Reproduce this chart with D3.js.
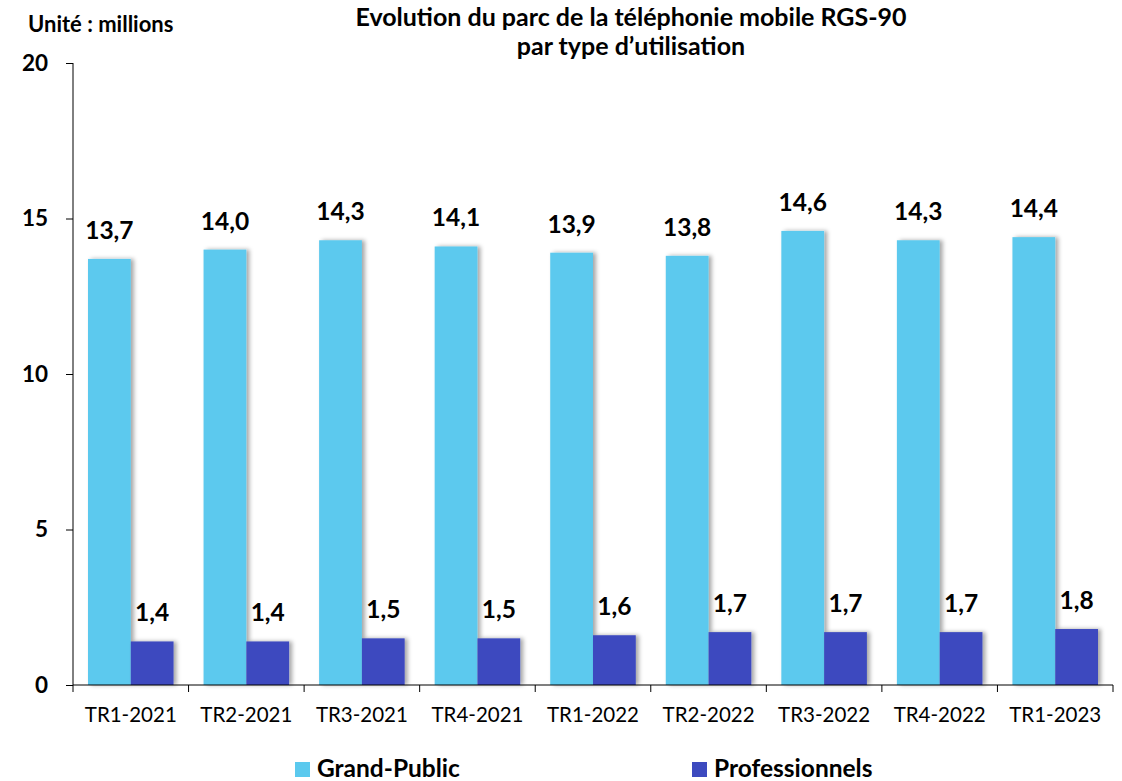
<!DOCTYPE html>
<html><head><meta charset="utf-8">
<script src="https://cdn.jsdelivr.net/npm/d3@7"></script>
<style>body{margin:0;background:#fff}svg{display:block}text{font-family:Lato,"Open Sans",sans-serif}</style>
</head><body><svg id="c" width="1122" height="781"></svg>
<script>
const categories = ["TR1-2021","TR2-2021","TR3-2021","TR4-2021","TR1-2022","TR2-2022","TR3-2022","TR4-2022","TR1-2023"];
const grandPublic = [13.7,14.0,14.3,14.1,13.9,13.8,14.6,14.3,14.4];
const professionnels = [1.4,1.4,1.5,1.5,1.6,1.7,1.7,1.7,1.8];
const yTicks = [0,5,10,15,20];
const seriesNames = ["Grand-Public","Professionnels"];
const colors = ["#5BC9EE","#3D4ABF"];

const svg = d3.select("#c");
const defs = svg.append("defs");
const f = defs.append("filter").attr("id","sh").attr("x","-20%").attr("y","-20%").attr("width","150%").attr("height","140%");
f.append("feDropShadow").attr("dx",3).attr("dy",0).attr("stdDeviation",2).attr("flood-color","#000").attr("flood-opacity",0.35);

const x = d3.scaleBand().domain(categories).range([73,1113]).padding(0);
const bw = x.bandwidth();
const xs = d3.scaleBand().domain(seriesNames).range([15, bw-15]).padding(0);
const y = d3.scaleLinear().domain([0,20]).range([685,63]);

const data = [grandPublic, professionnels];
const fmt = v => d3.format(".1f")(v).replace(".", ",");

data.forEach((vals, si) => {
  const g = svg.append("g");
  g.selectAll("rect").data(vals).join("rect")
    .attr("x",(d,i)=>x(categories[i])+xs(seriesNames[si]))
    .attr("y",d=>y(d))
    .attr("width",xs.bandwidth())
    .attr("height",d=>y(0)-y(d))
    .attr("fill",colors[si])
    .attr("filter","url(#sh)");
  g.selectAll("text").data(vals).join("text")
    .attr("x",(d,i)=>x(categories[i])+xs(seriesNames[si])+xs.bandwidth()/2)
    .attr("y",d=>y(d)-20)
    .attr("text-anchor","middle")
    .attr("font-size",24.5).attr("font-weight","bold").attr("fill","#000")
    .text(d=>fmt(d));
});

// Y axis
const ya = svg.append("g").attr("transform","translate(73,0)")
  .call(d3.axisLeft(y).tickValues(yTicks).tickSize(7).tickPadding(18).tickFormat(d=>d));
ya.select(".domain").attr("stroke","#000").attr("d","M0,63V685");
ya.selectAll(".tick line").attr("stroke","#000");
ya.selectAll(".tick text").attr("font-size",22.5).attr("font-weight","bold").attr("fill","#000").attr("font-family","Lato");

// X axis
const xa = svg.append("g").attr("transform","translate(0,685)")
  .call(d3.axisBottom(x).tickSize(0).tickPadding(0));
xa.select(".domain").attr("stroke","#000").attr("d","M73,0H1113");
xa.selectAll(".tick text").attr("font-size",20.5).attr("fill","#000").attr("font-family","Lato").attr("y",37).attr("dy",0);
const bounds = categories.map(c=>x(c)).concat([x(categories[categories.length-1])+bw]);
xa.selectAll(".bnd").data(bounds).join("line").attr("class","bnd")
  .attr("x1",d=>d).attr("x2",d=>d).attr("y1",0).attr("y2",7).attr("stroke","#000");

// Titles
svg.append("text").attr("x",28).attr("y",32).attr("font-size",22).attr("font-weight","bold").text("Unité : millions");
svg.append("text").attr("x",631).attr("y",26).attr("text-anchor","middle").attr("font-size",25).attr("font-weight","bold").text("Evolution du parc de la téléphonie mobile RGS-90");
svg.append("text").attr("x",631).attr("y",55).attr("text-anchor","middle").attr("font-size",25).attr("font-weight","bold").text("par type d’utilisation");

// Legend
const legX = [295, 692];
seriesNames.forEach((n,i)=>{
  svg.append("rect").attr("x",legX[i]).attr("y",762).attr("width",15).attr("height",15).attr("fill",colors[i]);
  svg.append("text").attr("x",legX[i]+22).attr("y",777).attr("font-size",24.5).attr("font-weight","bold").text(n);
});
</script></body></html>
